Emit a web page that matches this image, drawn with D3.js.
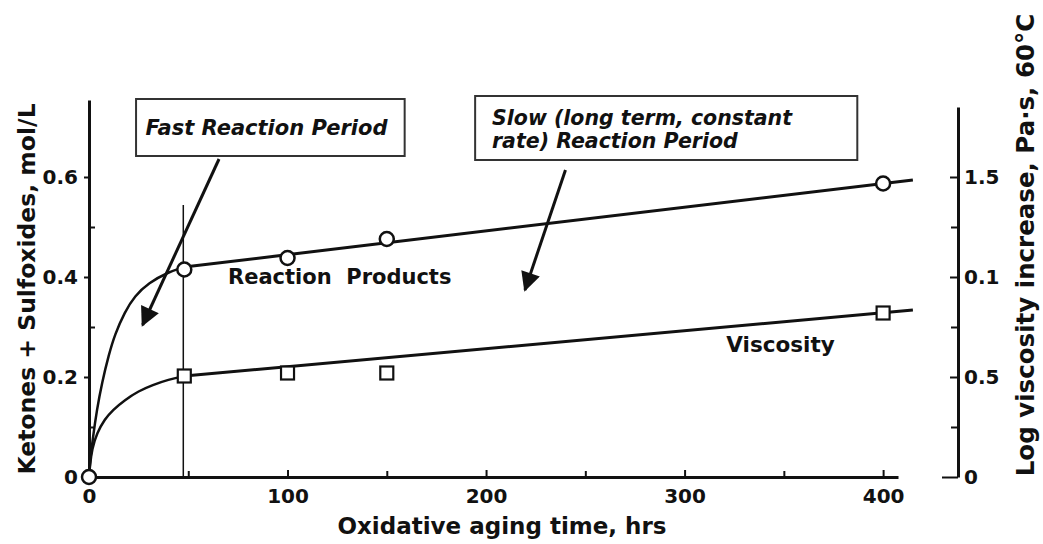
<!DOCTYPE html>
<html>
<head>
<meta charset="utf-8">
<script src="https://cdn.jsdelivr.net/npm/d3@7"></script>
<style>
  body { margin: 0; background: #fff; }
  svg text { font-family: "DejaVu Sans", sans-serif; font-weight: bold; fill: #111; }
  .axis path, .axis line { stroke: #111; }
</style>
</head>
<body>
<svg id="chart" width="1043" height="544"></svg>
<script>
// measured points
let hours = [0, 48, 100, 150, 400];
let products = [0, 0.415, 0.438, 0.476, 0.587];
let viscHours = [48, 100, 150, 400];
let viscosity = [0.505, 0.52, 0.52, 0.82];

// drawn fit lines
let prodFitHours = [0, 0.5, 2, 4, 6.5, 10, 13, 18, 23, 30, 40, 48];
let prodFit = [0, 0.03, 0.08, 0.135, 0.188, 0.245, 0.285, 0.33, 0.362, 0.388, 0.41, 0.42];
let prodLineHours = [48, 415];
let prodLine = [0.42, 0.594];
let viscFitHours = [0, 0.5, 1.5, 4, 8, 12, 18, 25, 32, 40, 48];
let viscFit = [0, 0.06, 0.14, 0.22, 0.29, 0.335, 0.385, 0.43, 0.46, 0.487, 0.505];
let viscLineHours = [48, 415];
let viscLine = [0.505, 0.835];

// ticks
let xTicks = [0, 100, 200, 300, 400];
let xMinor = [50, 150, 250, 350];
let leftTicks = [0, 0.2, 0.4, 0.6];
let leftLabels = ['0', '0.2', '0.4', '0.6'];
let leftMinor = [0.1, 0.3, 0.5];
let rightTicks = [0, 0.5, 1, 1.5];
let rightLabels = ['0', '0.5', '0.1', '1.5'];
let rightMinor = [0.25, 0.75, 1.25];

let svg = d3.select('#chart');

let x = d3.scaleLinear().domain([0, 407.5]).range([89, 898]);
let yL = d3.scaleLinear().domain([0, 0.754]).range([477, 100]);
let yR = d3.scaleLinear().domain([0, 1.85]).range([477, 107]);

// x axis
svg.append('g').attr('class', 'axis').attr('transform', 'translate(0,477)')
    .call(d3.axisBottom(x).tickValues(xTicks).tickSizeInner(-7).tickSizeOuter(0).tickPadding(12).tickFormat(d3.format('d')));
svg.append('g').attr('class', 'axis').attr('transform', 'translate(0,477)')
    .call(d3.axisBottom(x).tickValues(xMinor).tickSizeInner(-6).tickSizeOuter(0).tickFormat(''))
    .select('.domain').remove();

// left axis
svg.append('g').attr('class', 'axis').attr('transform', 'translate(89,0)')
    .call(d3.axisLeft(yL).tickValues(leftTicks).tickSizeInner(5).tickSizeOuter(0).tickPadding(6)
        .tickFormat(function(d, i) { return leftLabels[i]; }));
svg.append('g').attr('class', 'axis').attr('transform', 'translate(89,0)')
    .call(d3.axisLeft(yL).tickValues(leftMinor).tickSizeInner(-6).tickSizeOuter(0).tickFormat(''))
    .select('.domain').remove();

// right axis
let rAxis = svg.append('g').attr('class', 'axis').attr('transform', 'translate(958,0)')
    .call(d3.axisRight(yR).tickValues(rightTicks).tickSizeInner(-8).tickSizeOuter(0).tickPadding(6)
        .tickFormat(function(d, i) { return rightLabels[i]; }));
rAxis.selectAll('.tick line').filter(function(d) { return d === 0; }).attr('x2', -16);
svg.append('g').attr('class', 'axis').attr('transform', 'translate(958,0)')
    .call(d3.axisRight(yR).tickValues(rightMinor).tickSizeInner(-7).tickSizeOuter(0).tickFormat(''))
    .select('.domain').remove();

svg.selectAll('.axis .domain').attr('stroke-width', 3);
svg.selectAll('.axis .tick line').attr('stroke-width', 2);
svg.selectAll('.axis text').attr('font-size', 20).attr('fill', '#111')
    .attr('font-family', '"DejaVu Sans", sans-serif').attr('font-weight', 'bold');

// axis titles
svg.append('text').attr('x', 502).attr('y', 534).attr('text-anchor', 'middle')
    .attr('font-size', 23).text('Oxidative aging time, hrs');
svg.append('text').attr('transform', 'translate(35,289) rotate(-90)').attr('text-anchor', 'middle')
    .attr('font-size', 23.5).text('Ketones + Sulfoxides, mol/L');
svg.append('text').attr('transform', 'translate(1034,245) rotate(-90)').attr('text-anchor', 'middle')
    .attr('font-size', 24.5).text('Log viscosity increase, Pa·s, 60°C');

// boundary between fast and slow periods
svg.append('line').attr('x1', x(47.5)).attr('x2', x(47.5)).attr('y1', yL(0.544)).attr('y2', yL(0))
    .attr('stroke', '#111').attr('stroke-width', 1.5);

// fit lines
let lineL = d3.line().x(function(d) { return x(d[0]); }).y(function(d) { return yL(d[1]); });
let lineR = d3.line().x(function(d) { return x(d[0]); }).y(function(d) { return yR(d[1]); });
svg.append('path').datum(d3.zip(prodFitHours, prodFit)).attr('d', lineL.curve(d3.curveBasis))
    .attr('fill', 'none').attr('stroke', '#111').attr('stroke-width', 2.5);
svg.append('path').datum(d3.zip(prodLineHours, prodLine)).attr('d', lineL.curve(d3.curveLinear))
    .attr('fill', 'none').attr('stroke', '#111').attr('stroke-width', 3);
svg.append('path').datum(d3.zip(viscFitHours, viscFit)).attr('d', lineR.curve(d3.curveBasis))
    .attr('fill', 'none').attr('stroke', '#111').attr('stroke-width', 2.5);
svg.append('path').datum(d3.zip(viscLineHours, viscLine)).attr('d', lineR.curve(d3.curveLinear))
    .attr('fill', 'none').attr('stroke', '#111').attr('stroke-width', 3);

// markers
svg.append('g').selectAll('rect').data(d3.zip(viscHours, viscosity)).join('rect')
    .attr('x', function(d) { return x(d[0]) - 6.5; })
    .attr('y', function(d) { return yR(d[1]) - 6.5; })
    .attr('width', 13).attr('height', 13)
    .attr('fill', '#fff').attr('stroke', '#111').attr('stroke-width', 2.2);
svg.append('g').selectAll('circle').data(d3.zip(hours, products)).join('circle')
    .attr('cx', function(d) { return x(d[0]); })
    .attr('cy', function(d) { return yL(d[1]); })
    .attr('r', 7).attr('fill', '#fff').attr('stroke', '#111').attr('stroke-width', 2.5);

// series labels
svg.append('text').attr('x', x(70)).attr('y', yL(0.386)).attr('font-size', 21)
    .attr('xml:space', 'preserve').style('white-space', 'pre').text('Reaction  Products');
svg.append('text').attr('x', x(321)).attr('y', yL(0.25)).attr('font-size', 21.5).text('Viscosity');

// annotation boxes
svg.append('rect').attr('x', x(23.7)).attr('y', yL(0.756)).attr('width', x(159) - x(23.7)).attr('height', yL(0.642) - yL(0.756))
    .attr('fill', '#fff').attr('stroke', '#333').attr('stroke-width', 2);
svg.append('text').attr('x', x(28.5)).attr('y', yL(0.684)).attr('font-size', 21).attr('font-style', 'italic')
    .text('Fast Reaction Period');
svg.append('rect').attr('x', x(194.5)).attr('y', yL(0.762)).attr('width', x(387) - x(194.5)).attr('height', yL(0.634) - yL(0.762))
    .attr('fill', '#fff').attr('stroke', '#333').attr('stroke-width', 2);
svg.append('text').attr('x', x(203)).attr('y', yL(0.704)).attr('font-size', 20.5).attr('font-style', 'italic')
    .text('Slow (long term, constant');
svg.append('text').attr('x', x(203)).attr('y', yL(0.658)).attr('font-size', 20.5).attr('font-style', 'italic')
    .text('rate) Reaction Period');

// arrows
svg.append('defs').append('marker').attr('id', 'head')
    .attr('viewBox', '0 0 10 10').attr('refX', 9).attr('refY', 5)
    .attr('markerWidth', 7).attr('markerHeight', 6.5).attr('orient', 'auto')
    .attr('markerUnits', 'strokeWidth')
    .append('path').attr('d', 'M0,0L10,5L0,10Z').attr('fill', '#111');
let arrows = [[65.5, 0.636, 27, 0.304], [240, 0.614, 219.6, 0.374]];
svg.append('g').selectAll('line').data(arrows).join('line')
    .attr('x1', function(d) { return x(d[0]); }).attr('y1', function(d) { return yL(d[1]); })
    .attr('x2', function(d) { return x(d[2]); }).attr('y2', function(d) { return yL(d[3]); })
    .attr('stroke', '#111').attr('stroke-width', 3).attr('marker-end', 'url(#head)');
</script>
</body>
</html>
